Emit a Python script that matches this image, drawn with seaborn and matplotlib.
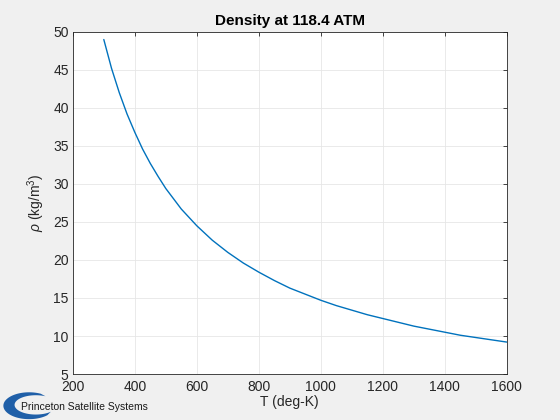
import numpy as np
import pandas as pd
import matplotlib
matplotlib.use('Agg')
import matplotlib.pyplot as plt
import seaborn as sns
from matplotlib.patches import Polygon

# Values
temp_k = [300, 325, 350, 375, 400, 425, 450, 475, 500, 550, 600, 650, 700, 750, 800, 850, 900, 950,
          1000, 1050, 1100, 1150, 1200, 1250, 1300, 1350, 1400, 1450, 1500, 1550, 1600]
density = [49.0, 45.2, 42.0, 39.2, 36.8, 34.6, 32.7, 31.0, 29.4, 26.7, 24.5, 22.6, 21.0, 19.6, 18.4,
           17.3, 16.3, 15.5, 14.7, 14.0, 13.4, 12.8, 12.3, 11.8, 11.3, 10.9, 10.5, 10.1, 9.8, 9.5, 9.2]
x_ticks = [200, 400, 600, 800, 1000, 1200, 1400, 1600]
y_ticks = [5, 10, 15, 20, 25, 30, 35, 40, 45, 50]

df = pd.DataFrame({'T': temp_k, 'rho': density})

sns.set_style('white')
plt.rcParams['font.family'] = ['Liberation Sans', 'DejaVu Sans']
plt.rcParams['mathtext.fontset'] = 'custom'
plt.rcParams['mathtext.it'] = 'Liberation Sans:italic'
plt.rcParams['mathtext.rm'] = 'Liberation Sans'

fig = plt.figure(figsize=(5.6, 4.2), dpi=100, facecolor='#f0f0f0')
ax = fig.add_axes([0.130, 0.1095, 0.775, 0.8145])
ax.set_facecolor('white')

sns.lineplot(data=df, x='T', y='rho', ax=ax, color='#0072bd', linewidth=1.0)

ax.set_xlim(200, 1600)
ax.set_ylim(5, 50)
ax.set_xticks(x_ticks)
ax.set_yticks(y_ticks)
ax.grid(True, color='#e6e6e6', linewidth=0.6)
ax.tick_params(direction='in', length=3, width=0.6, colors='#262626', labelsize=10,
               top=True, right=True, labeltop=False, labelright=False)
ax.tick_params(axis='y', pad=3)
ax.tick_params(axis='x', pad=4)
for s in ax.spines.values():
    s.set_color('#262626')
    s.set_linewidth(0.6)

ax.set_xlabel('T (deg-K)', fontsize=10, color='#262626', labelpad=1)
ax.set_ylabel(r'$\rho$ (kg/m$^3$)', fontsize=10, color='#262626', labelpad=4)
ax.set_title('Density at 118.4 ATM', fontsize=11, fontweight='bold', color='black', pad=5)

# logo
th = np.linspace(np.pi * 0.35, np.pi * 1.75, 60)
outer = np.column_stack([0.052 + 0.046 * np.cos(th), 0.034 + 0.032 * np.sin(th)])
inner = np.column_stack([0.064 + 0.038 * np.cos(th[::-1]), 0.036 + 0.023 * np.sin(th[::-1])])
fig.patches.append(Polygon(np.vstack([outer, inner]), closed=True, transform=fig.transFigure,
                           facecolor='#1f5fa8', edgecolor='none'))
fig.text(0.037, 0.030, 'Princeton Satellite Systems', fontsize=7.5, color='#1a1a1a',
         va='center', ha='left')

fig.savefig('out.png', dpi=100, facecolor=fig.get_facecolor())
